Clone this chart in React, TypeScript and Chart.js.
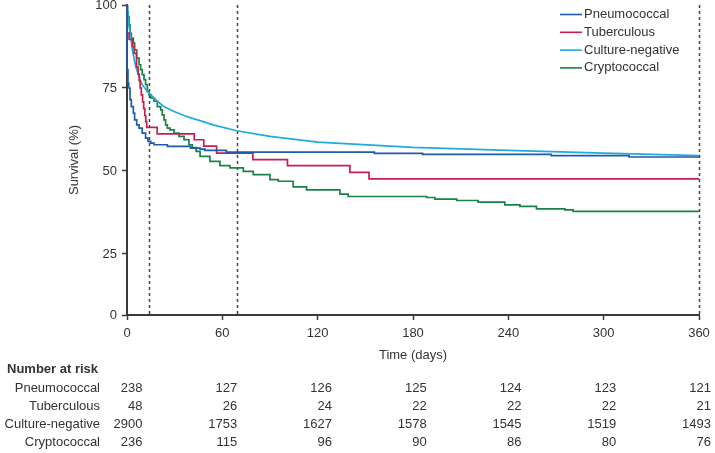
import React, { useRef, useEffect } from 'react';
import { Chart, registerables } from 'chart.js';

Chart.register(...registerables);

const FONT = "'Liberation Sans', Arial, sans-serif";
const TEXT = '#333333';
const AXIS = '#3a3a3a';

const seriesNames = ['Pneumococcal', 'Tuberculous', 'Culture-negative', 'Cryptococcal'];
const seriesColors = ['#1f5ba8', '#c81e4e', '#20aadb', '#188249'];

// Kaplan-Meier curves: day of each step and survival (%) after it
const pneumoDays = [0, 0.6, 1.05, 1.9, 2.7, 4, 4.8, 6.1, 7.6, 9.6, 11.7, 13.2, 14.9, 17, 25.4, 40, 46, 49, 62.5, 155.7, 186, 267, 316, 350, 360];
const pneumoSurv = [100, 80.5, 76.5, 75, 71.5, 69.4, 67.4, 65.4, 63.9, 62.9, 61.4, 59.9, 58.9, 58.4, 57.9, 57.4, 56.9, 56.6, 56.2, 55.7, 55.3, 55.0, 54.6, 54.2, 54.2];

const tuberDays = [0, 1.3, 3.5, 4.5, 6, 7, 7.7, 8.3, 9, 9.8, 10.5, 11.2, 11.8, 12.4, 19, 42.3, 48.3, 56.4, 79.2, 101, 140.3, 152.3, 353.7, 360];
const tuberSurv = [100, 91.5, 89.6, 87.5, 85.4, 81.3, 79.2, 77.1, 75, 72.9, 70.8, 68.8, 66.7, 64.9, 63.1, 61.2, 59.4, 57.5, 55.4, 53.4, 51.6, 49.6, 47.6, 47.6];

const cultureDays = [0, 0.5, 1.3, 2.3, 3.4, 4.4, 5.5, 6.5, 7.6, 8.6, 9.6, 10.7, 12.8, 14.9, 17, 19.1, 23.3, 29.6, 35.9, 42.2, 48.5, 54.8, 69, 90, 120, 180, 240, 300, 360];
const cultureSurv = [100, 96, 93.5, 90.5, 86.5, 84, 81.5, 80, 78.5, 77, 76, 75.3, 74, 73, 72, 71, 69.4, 67.9, 66.7, 65.7, 64.8, 63.8, 62.1, 60.4, 58.7, 57.1, 56.2, 55.4, 54.6];

const cryptoDays = [0, 0.6, 1.26, 1.9, 2.7, 4, 4.8, 6.1, 7.6, 8.6, 9.6, 10.7, 11.7, 12.8, 13.8, 14.9, 17, 19.1, 21.2, 22.2, 23.3, 24.3, 25.4, 27.1, 29.6, 32.7, 35.9, 39, 41.1, 43.5, 46, 52.2, 58.5, 64.8, 73.2, 79.5, 90, 95.2, 104.6, 113, 134, 139.2, 188.6, 193.8, 207.5, 221, 237.8, 247.3, 257.7, 275.6, 280.8, 332.2, 360];
const cryptoSurv = [100, 98, 96.5, 94, 91.5, 90, 88.5, 86.5, 84, 82, 80.5, 79, 77.5, 76, 74, 73, 72, 71, 69.4, 68.4, 66.9, 65.4, 63.9, 62.9, 62.4, 61.4, 60.4, 59.4, 57.9, 57.0, 55.9, 54.4, 52.9, 51.6, 50.9, 49.9, 48.9, 47.4, 46.9, 45.2, 44.3, 43.0, 42.3, 42.0, 41.5, 41.1, 40.6, 39.8, 39.3, 38.6, 38.3, 37.8, 37.8];

const xTicks = [0, 60, 120, 180, 240, 300, 360];
const yTicks = [0, 25, 50, 75, 100];
const yFloor = 6.6; // the printed "0" sits above the linear zero of the curves
const landmarkDays = [14, 69, 360];

// Number at risk table
const riskTimes = [0, 60, 120, 180, 240, 300, 360];
const riskPneumo = [238, 127, 126, 125, 124, 123, 121];
const riskTuber = [48, 26, 24, 22, 22, 22, 21];
const riskCulture = [2900, 1753, 1627, 1578, 1545, 1519, 1493];
const riskCrypto = [236, 115, 96, 90, 86, 80, 76];

const toPoints = (days: number[], surv: number[]) => days.map((d, i) => ({ x: d, y: surv[i] }));

const overlayPlugin = {
  id: 'overlay',
  beforeDatasetsDraw(chart: any) {
    const { ctx, chartArea, scales } = chart;
    ctx.save();
    ctx.strokeStyle = '#444';
    ctx.lineWidth = 1.5;
    ctx.setLineDash([3, 3]);
    landmarkDays.forEach((d) => {
      const x = Math.round(scales.x.getPixelForValue(d)) + 0.5;
      ctx.beginPath();
      ctx.moveTo(x, chartArea.top);
      ctx.lineTo(x, chartArea.bottom);
      ctx.stroke();
    });
    ctx.restore();
  },
  afterDraw(chart: any) {
    const { ctx, chartArea, scales } = chart;
    ctx.save();

    // legend
    const lx = chartArea.right - 139;
    ctx.font = `13px ${FONT}`;
    ctx.textBaseline = 'middle';
    ctx.textAlign = 'left';
    seriesNames.forEach((name, i) => {
      const y = 14.5 + i * 17.8;
      ctx.strokeStyle = seriesColors[i];
      ctx.lineWidth = 1.6;
      ctx.beginPath();
      ctx.moveTo(lx, y);
      ctx.lineTo(lx + 22, y);
      ctx.stroke();
      ctx.fillStyle = TEXT;
      ctx.fillText(name, lx + 24, y);
    });

    // number at risk
    const rows = [riskPneumo, riskTuber, riskCulture, riskCrypto];
    const rowY = [388, 406.3, 424.6, 442.9];
    ctx.fillStyle = TEXT;
    ctx.font = `bold 13px ${FONT}`;
    ctx.textAlign = 'left';
    ctx.fillText('Number at risk', 7, 369);
    ctx.font = `13px ${FONT}`;
    rows.forEach((vals, r) => {
      ctx.textAlign = 'right';
      ctx.fillText(seriesNames[r], 100, rowY[r]);
      vals.forEach((v, i) => {
        const x = scales.x.getPixelForValue(riskTimes[i]) + 15.5 - i * 0.6;
        ctx.fillText(String(v), x, rowY[r]);
      });
    });
    ctx.restore();
  },
};

const App: React.FC = () => {
  const chartRef = useRef<HTMLCanvasElement>(null);
  const chartInstance = useRef<Chart | null>(null);

  useEffect(() => {
    if (!chartRef.current) return;
    if (chartInstance.current) chartInstance.current.destroy();

    const series = [
      toPoints(pneumoDays, pneumoSurv),
      toPoints(tuberDays, tuberSurv),
      toPoints(cultureDays, cultureSurv),
      toPoints(cryptoDays, cryptoSurv),
    ];

    chartInstance.current = new Chart(chartRef.current, {
      type: 'line',
      data: {
        datasets: series.map((pts, i) => ({
          label: seriesNames[i],
          data: pts,
          borderColor: seriesColors[i],
          borderWidth: 1.7,
          pointRadius: 0,
          stepped: i === 2 ? false : 'after',
          tension: 0,
          fill: false,
          clip: false as any,
        })),
      },
      options: {
        animation: false,
        responsive: true,
        maintainAspectRatio: false,
        layout: { padding: { left: 0, top: 5, right: 16, bottom: 0 } },
        plugins: { legend: { display: false }, tooltip: { enabled: false } },
        scales: {
          x: {
            type: 'linear',
            min: 0,
            max: 360,
            afterFit: (s: any) => {
              s.height = 138;
              s.paddingLeft = 0;
              s.paddingRight = 0;
            },
            afterBuildTicks: (s: any) => { s.ticks = xTicks.map((v) => ({ value: v })); },
            grid: { drawOnChartArea: false, drawTicks: true, tickLength: 5, tickColor: AXIS, tickWidth: 1.5 },
            border: { display: true, color: AXIS, width: 2 },
            ticks: { color: TEXT, font: { family: FONT, size: 13 }, padding: 6, maxRotation: 0 },
            title: {
              display: true,
              text: 'Time (days)',
              color: TEXT,
              font: { family: FONT, size: 13 },
              padding: { top: 0, bottom: 90 },
            },
          },
          y: {
            type: 'linear',
            min: yFloor,
            max: 100,
            afterFit: (s: any) => {
              s.width = 127;
              s.paddingTop = 0;
              s.paddingBottom = 0;
            },
            afterBuildTicks: (s: any) => { s.ticks = yTicks.map((v) => ({ value: v === 0 ? yFloor : v })); },
            grid: { drawOnChartArea: false, drawTicks: true, tickLength: 5, tickColor: AXIS, tickWidth: 1.5 },
            border: { display: true, color: AXIS, width: 2 },
            ticks: {
              color: TEXT,
              font: { family: FONT, size: 13 },
              padding: 5,
              callback: (v: any) => (v === yFloor ? '0' : String(v)),
            },
            title: {
              display: true,
              text: 'Survival (%)',
              color: TEXT,
              font: { family: FONT, size: 13 },
              padding: { top: 67, bottom: 0 },
            },
          },
        },
      },
      plugins: [overlayPlugin],
    });

    return () => {
      if (chartInstance.current) {
        chartInstance.current.destroy();
        chartInstance.current = null;
      }
    };
  }, []);

  return (
    <div style={{ position: 'absolute', left: 0, top: 0, width: 715, height: 453, background: '#fff' }}>
      <canvas ref={chartRef} />
    </div>
  );
};

export default App;
